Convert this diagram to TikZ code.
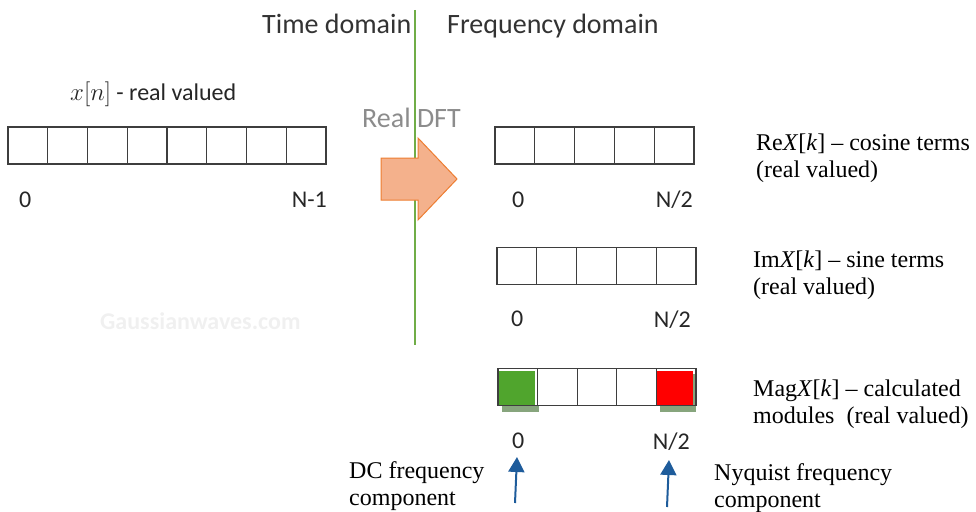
\documentclass[tikz,border=0pt]{standalone}
\usepackage{fontspec}
\setmainfont{Liberation Serif}
\newfontfamily\sanscal{Carlito}
\usetikzlibrary{arrows.meta}
\definecolor{domgreen}{RGB}{112,173,71}
\definecolor{arrfill}{RGB}{244,177,140}
\definecolor{arrdraw}{RGB}{237,125,49}
\definecolor{cellline}{RGB}{62,62,62}
\definecolor{dcgreen}{RGB}{80,165,45}
\definecolor{nyqred}{RGB}{255,0,0}
\definecolor{shadowc}{RGB}{135,165,125}
\definecolor{pointblue}{RGB}{30,92,155}
\definecolor{dftgray}{RGB}{140,140,140}
\definecolor{wmark}{RGB}{240,240,240}
\tikzset{
  cellbox/.style={draw=cellline, line width=1.3pt, minimum height=37pt, inner sep=0pt},
  headtxt/.style={font=\sanscal\fontsize{28}{32}\selectfont, text=black!80, anchor=base west, inner sep=0pt},
  idxtxt/.style={font=\sanscal\fontsize{24}{28}\selectfont, text=black!85, inner sep=0pt},
  sertxt/.style={font=\fontsize{24}{27}\selectfont, anchor=base west, inner sep=0pt},
  pointer/.style={draw=pointblue, line width=2pt, -{Triangle[width=16pt,length=15pt]}}
}
\begin{document}
\begin{tikzpicture}[x=1pt,y=-1pt]
\path[use as bounding box] (0,0) rectangle (976,511);

% watermark
\node[font=\sanscal\bfseries\fontsize{24}{28}\selectfont, text=wmark, anchor=base west, inner sep=0pt] (wm) at (100,329) {Gaussianwaves.com};

% headings
\node[headtxt] (time) at (262,34) {Time domain};
\node[headtxt] (freq) at (447,34) {Frequency domain};

% input sequence
\node[font=\sanscal\fontsize{24}{28}\selectfont, text=black!85, anchor=base west, inner sep=0pt] (xlab) at (70,100) {$x[n]$ - real valued};
\foreach \i in {1,...,8} {
  \node[cellbox, minimum width=39.75pt] (l\i) at ({8+39.75*(\i-0.5)},145.5) {};
}
\node[idxtxt, anchor=base west] (l0lab) at (19,207) {0};
\node[idxtxt, anchor=base east] (lNlab) at (327,207) {N-1};

% Real DFT label, domain line, arrow
\node[font=\sanscal\fontsize{28}{32}\selectfont, text=dftgray, anchor=base west, inner sep=0pt] (dft) at (362,127) {Real DFT};
\coordinate (linetop) at (415,10);
\coordinate (linebot) at (415,345);
\draw[domgreen, line width=2pt] (linetop) -- (linebot);
\draw[fill=arrfill, draw=arrdraw, line width=1pt, line join=miter]
  (381,158) -- (418,158) -- (418,138) -- (457,179) -- (418,220) -- (418,200) -- (381,200) -- cycle;

% Re X[k]
\foreach \i in {1,...,5} {
  \node[cellbox, minimum width=39.8pt] (r\i) at ({495+39.8*(\i-0.5)},145.5) {};
}
\node[idxtxt, anchor=base west] (r0lab) at (512,207) {0};
\node[idxtxt, anchor=base east] (rNlab) at (693,207) {N/2};
\node[sertxt] (re1) at (756,150) {Re\textit{X}[\textit{k}] – cosine terms};
\node[sertxt] (re2) at (756,177) {(real valued)};

% Im X[k]
\foreach \i in {1,...,5} {
  \node[cellbox, minimum width=39.8pt] (i\i) at ({497+39.8*(\i-0.5)},266) {};
}
\node[idxtxt, anchor=base west] (i0lab) at (511,326) {0};
\node[idxtxt, anchor=base east] (iNlab) at (691,327) {N/2};
\node[sertxt] (im1) at (753,267) {Im\textit{X}[\textit{k}] – sine terms};
\node[sertxt] (im2) at (753,294) {(real valued)};

% Mag X[k]
\fill[shadowc] (502,406) rectangle (539,412);
\fill[shadowc] (660,374) rectangle (696,412);
\fill[dcgreen] (499,371) rectangle (535,406);
\fill[nyqred] (657,371) rectangle (693,405);
\foreach \i in {1,...,5} {
  \node[cellbox, minimum width=39.6pt] (m\i) at ({498+39.6*(\i-0.5)},387) {};
}
\node[idxtxt, anchor=base west] (m0lab) at (512,448) {0};
\node[idxtxt, anchor=base east] (mNlab) at (690,449) {N/2};
\node[sertxt] (mag1) at (753,396) {Mag\textit{X}[\textit{k}] – calculated};
\node[sertxt] (mag2) at (753,423) {modules~ (real valued)};

% pointers
\coordinate (dcfoot) at (515,503);
\coordinate (dctip) at (517,457);
\coordinate (nyfoot) at (667,507);
\coordinate (nytip) at (669,460);
\draw[pointer] (dcfoot) -- (dctip);
\draw[pointer] (nyfoot) -- (nytip);
\node[sertxt] (dc1) at (349,478) {DC frequency};
\node[sertxt] (dc2) at (349,505) {component};
\node[sertxt] (ny1) at (714,480) {Nyquist frequency};
\node[sertxt] (ny2) at (714,507) {component};
\end{tikzpicture}
\end{document}
